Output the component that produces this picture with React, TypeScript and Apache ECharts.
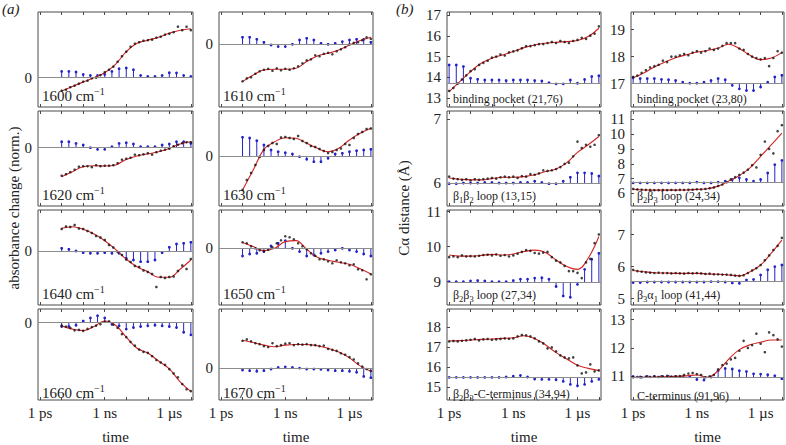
import React, { useEffect, useRef } from 'react';
import * as echarts from 'echarts';

const FONT = 'Liberation Serif';
const RED = '#d42424';
const BLUE = '#2323c8';
const DOT = '#111111';
const BASE = '#8c8c8c';
const FRAME = '#4a4a4a';
const TXT = '#222222';

// time axis: log10(t / 1 ps)
const timeTickLogs = [0, 3, 6];
const timeTickLabels = ['1 ps', '1 ns', '1 µs'];
const decadeTicks = [0, 1, 2, 3, 4, 5, 6, 7];

// ---------- panel (a): absorbance change, data from 10 ps to 10 µs ----------
const fit1600 = [-1.33, -0.87, -0.43, 0.0, 0.5, 1.33, 2.6, 3.45, 3.75, 4.05, 4.45, 4.75, 4.9];
const fit1610 = [-3.73, -3.07, -2.57, -2.5, -2.5, -2.4, -1.73, -1.17, -0.9, -0.57, -0.07, 0.37, 0.7];
const fit1620 = [-2.9, -2.4, -1.9, -1.8, -1.83, -1.73, -1.17, -0.83, -0.63, -0.4, -0.07, 0.37, 0.6];
const fit1630 = [-3.4, -1.4, 0.67, 1.43, 1.83, 1.77, 1.27, 0.77, 0.43, 0.77, 1.6, 2.27, 2.77];
const fit1640 = [2.27, 2.43, 2.17, 1.7, 1.03, 0.17, -0.83, -1.57, -2.07, -2.63, -2.63, -1.83, -0.9];
const fit1650 = [0.57, 0.17, -0.23, 0.0, 0.67, 0.77, -0.1, -0.9, -1.2, -1.4, -1.6, -2.05, -2.57];
const fit1660 = [-0.33, -0.67, -0.83, -0.4, 0.17, -0.27, -1.5, -2.67, -3.17, -4.0, -4.83, -6.17, -7.17];
const fit1670 = [2.9, 2.67, 2.4, 2.23, 2.4, 2.47, 2.47, 2.33, 2.07, 1.67, 1.07, 0.23, -0.33];

const dots1600 = [-1.3, -1.2, -0.95, -0.8, -0.6, -0.4, -0.3, -0.05, 0.0, 0.25, 0.55, 0.8, 1.1, 1.6, 2.15, 2.6, 3.1, 3.4, 3.55, 3.7, 3.75, 3.8, 4.0, 4.1, 4.3, 4.4, 4.55, 5.1, 4.75, 5.1, 4.75];
const dots1610 = [-3.7, -3.4, -3.3, -2.95, -2.7, -2.55, -2.45, -2.65, -2.4, -2.6, -2.45, -2.55, -2.4, -2.2, -1.9, -1.6, -1.5, -1.1, -1.2, -0.95, -0.85, -1.0, -0.7, -0.5, -0.3, 0.0, 0.15, 0.2, 0.4, 0.7, 0.55];
const dots1620 = [-2.8, -2.65, -2.45, -2.2, -1.9, -1.85, -1.85, -1.95, -1.75, -1.85, -1.8, -1.8, -1.75, -1.55, -1.2, -1.1, -1.0, -0.7, -0.75, -0.65, -0.55, -0.7, -0.45, -0.3, -0.2, -0.1, 0.15, 0.3, 0.45, 0.55, 0.55];
const dots1630 = [-3.4, -2.4, -1.7, -0.9, -0.1, 0.6, 1.0, 1.3, 1.2, 1.85, 1.9, 1.8, 1.7, 2.0, 1.5, 1.3, 1.0, 0.9, 0.7, 0.5, 0.3, 0.4, 0.6, 0.75, 1.2, 1.1, 1.8, 2.2, 2.4, 2.7, 2.75];
const dots1640 = [2.2, 2.45, 2.4, 2.6, 2.25, 2.2, 2.0, 1.8, 1.5, 1.35, 1.1, 0.6, 0.35, -0.1, -0.4, -0.85, -1.1, -1.5, -1.6, -1.95, -2.1, -2.3, -3.6, -2.6, -2.7, -2.6, -2.55, -2.0, -1.45, -1.8, -0.8];
const dots1650 = [0.6, 0.5, 0.2, 0.0, -0.2, -0.3, -0.15, 0.1, 0.5, 0.8, 1.2, 1.1, 0.9, 0.5, 0.2, -0.1, -0.5, -0.75, -1.1, -1.1, -1.3, -1.5, -1.2, -1.4, -1.5, -1.7, -1.6, -2.1, -2.2, -3.1, -2.6];
const dots1660 = [-0.3, -0.4, -0.55, -0.8, -0.75, -0.85, -0.65, -0.45, -0.3, -0.15, 0.1, 0.15, -0.2, -0.55, -1.2, -1.5, -2.0, -2.4, -2.8, -3.05, -3.15, -3.5, -3.9, -4.15, -4.4, -4.85, -5.3, -5.7, -6.4, -6.95, -7.15];
const dots1670 = [2.85, 3.0, 2.8, 2.6, 2.5, 2.3, 2.2, 2.6, 2.3, 2.4, 2.55, 2.6, 2.4, 2.5, 2.45, 2.5, 2.4, 2.4, 2.3, 2.35, 2.0, 1.9, 1.8, 1.55, 1.4, 1.15, 0.9, 0.5, 0.15, -0.1, -0.3];

const stems1600 = [0.63, 0.63, 0.57, 0.33, 0.23, 0.23, 0.33, 0.63, 0.9, 0.97, 0.8, 0.23, 0.13, 0.13, 0.23, 0.5, 0.47, 0.23, 0.13];
const stems1610 = [0.7, 0.7, 0.5, 0.2, -0.07, -0.23, -0.23, 0, 0.43, 0.6, 0.43, 0.1, 0, 0.1, 0.27, 0.43, 0.5, 0.5, 0.2];
const stems1620 = [0.6, 0.6, 0.43, 0.27, 0, -0.17, -0.17, 0.1, 0.43, 0.5, 0.37, 0.1, 0.1, 0.1, 0.27, 0.37, 0.6, 0.6, 0.43];
const stems1630 = [1.87, 1.8, 1.53, 1.1, 0.6, 0.43, 0.33, 0.2, -0.07, -0.33, -0.57, -0.57, -0.23, 0.2, 0.27, 0.43, 0.53, 0.6, 0.67];
const stems1640 = [0.27, 0.17, 0, -0.17, -0.23, -0.23, -0.17, -0.23, -0.23, -0.73, -0.9, -1.07, -1.07, -0.9, -0.17, 0.37, 0.7, 0.77, 0.87];
const stems1650 = [-0.77, -0.57, -0.5, -0.33, 0.23, 0.5, 0.77, 0, -0.33, -0.77, -0.67, -0.5, -0.33, -0.17, 0, -0.17, -0.33, -0.57, -0.77];
const stems1660 = [-0.4, -0.4, -0.27, 0.17, 0.5, 0.73, 0.5, -0.17, -0.33, -0.67, -0.5, -0.4, -0.33, -0.27, -0.33, -0.4, -0.5, -1.0, -1.27];
const stems1670 = [-0.2, -0.27, -0.33, -0.27, -0.1, 0.07, 0.13, 0.07, 0, -0.1, -0.1, -0.13, -0.2, -0.27, -0.27, -0.33, -0.43, -0.87, -1.0];

// ---------- panel (b): C-alpha distances (Å), data from 1 ps to 10 µs ----------
const fitB1 = [13.32, 13.8, 14.28, 14.68, 14.92, 15.08, 15.24, 15.43, 15.56, 15.64, 15.69, 15.72, 15.77, 15.96, 16.36];
const fitB2 = [17.22, 17.4, 17.62, 17.8, 17.96, 18.07, 18.17, 18.23, 18.32, 18.46, 18.3, 18.05, 17.89, 17.95, 18.15];
const fitB3 = [6.08, 6.06, 6.05, 6.05, 6.07, 6.09, 6.09, 6.1, 6.13, 6.18, 6.22, 6.32, 6.48, 6.6, 6.73];
const fitB4 = [6.27, 6.24, 6.22, 6.22, 6.22, 6.23, 6.27, 6.31, 6.49, 6.83, 7.2, 7.72, 8.5, 9.28, 10.06];
const fitB5 = [9.76, 9.73, 9.73, 9.75, 9.78, 9.76, 9.79, 9.86, 9.9, 9.83, 9.62, 9.43, 9.35, 9.67, 10.29];
const fitB6 = [5.88, 5.84, 5.81, 5.8, 5.79, 5.79, 5.79, 5.77, 5.76, 5.74, 5.71, 5.84, 6.05, 6.42, 6.83];
const fitB7 = [17.32, 17.34, 17.37, 17.4, 17.42, 17.45, 17.48, 17.58, 17.45, 17.13, 16.74, 16.42, 16.11, 15.95, 15.84];
const fitB8 = [10.97, 10.97, 10.98, 10.99, 11.0, 11.02, 11.05, 10.97, 11.2, 11.61, 11.94, 12.11, 12.2, 12.28, 12.28];

const dotsB1 = [13.35, 13.5, 13.7, 13.9, 14.1, 14.3, 14.4, 14.6, 14.7, 14.8, 14.95, 15.0, 15.1, 15.05, 15.2, 15.25, 15.3, 15.4, 15.5, 15.5, 15.55, 15.6, 15.6, 15.65, 15.7, 15.65, 15.75, 15.7, 15.65, 15.75, 15.8, 15.9, 15.85, 16.0, 16.1, 16.45];
const dotsB2 = [17.25, 17.3, 17.4, 17.5, 17.6, 17.65, 17.7, 17.85, 17.8, 18.0, 18.0, 18.05, 18.1, 18.05, 18.15, 18.2, 18.15, 18.2, 18.3, 18.25, 18.3, 18.4, 18.5, 18.5, 18.5, 18.3, 18.25, 18.1, 18.0, 17.95, 17.9, 17.95, 17.65, 17.95, 18.2, 18.15];
const dotsB3 = [6.1, 6.07, 6.06, 6.05, 6.06, 6.04, 6.06, 6.05, 6.06, 6.07, 6.08, 6.07, 6.09, 6.1, 6.09, 6.1, 6.08, 6.11, 6.1, 6.14, 6.13, 6.15, 6.2, 6.19, 6.2, 6.22, 6.25, 6.3, 6.32, 6.42, 6.65, 6.55, 6.6, 6.57, 6.6, 6.75];
const dotsB4 = [6.3, 6.27, 6.25, 6.24, 6.23, 6.22, 6.22, 6.23, 6.22, 6.23, 6.22, 6.24, 6.23, 6.25, 6.25, 6.28, 6.27, 6.3, 6.35, 6.4, 6.5, 6.6, 6.75, 6.95, 7.1, 7.25, 7.4, 7.6, 7.9, 7.75, 8.6, 9.5, 9.0, 8.7, 10.2, 10.6];
const dotsB5 = [9.7, 9.72, 9.7, 9.75, 9.72, 9.73, 9.72, 9.74, 9.76, 9.77, 9.75, 9.78, 9.74, 9.76, 9.72, 9.75, 9.8, 9.85, 9.9, 9.88, 9.82, 9.8, 9.83, 9.85, 9.7, 9.6, 9.55, 9.45, 9.3, 9.3, 9.25, 9.1, 9.55, 9.65, 10.1, 10.35];
const dotsB6 = [5.9, 5.86, 5.84, 5.82, 5.81, 5.8, 5.81, 5.8, 5.8, 5.79, 5.8, 5.79, 5.78, 5.8, 5.79, 5.8, 5.79, 5.77, 5.78, 5.76, 5.76, 5.75, 5.75, 5.74, 5.72, 5.71, 5.73, 5.8, 5.88, 5.95, 6.05, 6.2, 6.35, 6.52, 6.65, 6.9];
const dotsB7 = [17.3, 17.32, 17.3, 17.33, 17.35, 17.38, 17.42, 17.35, 17.4, 17.42, 17.38, 17.4, 17.42, 17.45, 17.43, 17.45, 17.55, 17.62, 17.6, 17.55, 17.45, 17.3, 17.2, 16.95, 17.0, 16.8, 16.6, 16.5, 16.45, 16.5, 16.1, 15.7, 15.75, 16.15, 15.8, 15.85];
const dotsB8 = [10.97, 10.98, 10.97, 10.99, 10.98, 11.0, 10.98, 11.0, 11.02, 10.99, 11.0, 11.01, 11.05, 11.1, 11.12, 11.08, 11.05, 10.97, 11.0, 11.05, 11.25, 11.4, 11.45, 11.6, 11.65, 11.9, 12.25, 12.0, 12.1, 12.5, 12.15, 11.85, 12.55, 12.45, 12.3, 12.05];

const stemsB1 = [14.6, 14.6, 14.52, 13.96, 13.91, 13.88, 13.88, 13.88, 13.85, 13.88, 13.88, 13.88, 13.85, 13.83, 13.75, 13.69, 13.69, 13.88, 13.72, 13.9, 14.04, 14.08];
const stemsB2 = [17.22, 17.19, 17.19, 17.19, 17.16, 17.15, 17.12, 17.06, 17.02, 17.02, 17.06, 17.12, 17.19, 17.15, 16.94, 16.81, 16.75, 16.75, 16.88, 17.06, 17.25, 17.31];
const stemsB3 = [5.99, 5.99, 6, 6, 6, 6.01, 6.01, 6, 6, 6, 6.01, 6.01, 6.03, 6.01, 5.99, 5.99, 6.03, 6.09, 6.16, 6.16, 6.15, 6.11];
const stemsB4 = [6.71, 6.71, 6.71, 6.71, 6.71, 6.71, 6.71, 6.71, 6.71, 6.76, 6.71, 6.71, 6.76, 6.83, 6.94, 7.05, 6.94, 6.83, 6.94, 7.38, 7.94, 8.23];
const stemsB5 = [9, 9, 9, 9.02, 9.03, 9.02, 9, 9, 9, 9.03, 9.07, 9.07, 9.1, 9.11, 9.07, 8.86, 8.59, 8.55, 8.92, 9.35, 9.64, 9.81];
const stemsB6 = [5.5, 5.5, 5.52, 5.52, 5.52, 5.52, 5.52, 5.52, 5.52, 5.52, 5.52, 5.53, 5.53, 5.52, 5.49, 5.48, 5.58, 5.6, 5.74, 5.9, 6.0, 6.05];
const stemsB7 = [15.5, 15.5, 15.5, 15.5, 15.5, 15.5, 15.5, 15.5, 15.52, 15.56, 15.6, 15.52, 15.42, 15.4, 15.4, 15.38, 15.3, 15.15, 15.08, 15.15, 15.3, 15.4];
const stemsB8 = [11.0, 10.98, 11.0, 11.0, 11.0, 11.0, 11.0, 10.99, 11.0, 10.89, 10.87, 10.98, 11.2, 11.28, 11.26, 11.2, 11.17, 11.09, 11.08, 11.06, 11.02, 10.92];

const baselinesB = [13.72, 17.0, 6.0, 6.74, 8.98, 5.53, 15.5, 10.97];
const yRangeA = [[-2.93, 6.57], [-6.27, 3.23], [-5.83, 3.67], [-5.0, 4.5], [-5.4, 4.1], [-5.67, 3.83], [-8.07, 1.43], [-3.33, 6.17]];
const yRangeB = [[12.58, 17.14], [16.14, 19.65], [5.64, 7.13], [5.15, 11.56], [8.33, 11.05], [4.8, 7.77], [14.37, 18.92], [10.17, 13.37]];
const yTicksB = [[13, 14, 15, 16, 17], [17, 18, 19], [6, 7], [6, 7, 8, 9, 10, 11], [9, 10, 11], [5, 6, 7], [15, 16, 17, 18], [11, 12, 13]];

const wavenumbers = ['1600', '1610', '1620', '1630', '1640', '1650', '1660', '1670'];
const labelsB = [
  '{t|binding pocket (21,76)}',
  '{t|binding pocket (23,80)}',
  '{t|β}{s|1}{t|β}{s|2}{t| loop (13,15)}',
  '{t|β}{s|2}{t|β}{s|3}{t| loop (24,34)}',
  '{t|β}{s|2}{t|β}{s|3}{t| loop (27,34)}',
  '{t|β}{s|3}{t|α}{s|1}{t| loop (41,44)}',
  '{t|β}{s|2}{t|β}{s|3}{t|-C-terminus (34,94)}',
  '{t|C-terminus (91,96)}',
];

// ---------- layout ----------
const COL_LEFT = [38, 219, 447, 631];
const COL_W = [155, 154, 154, 153];
const ROW_TOP = [12, 111, 210, 309];
const ROW_H = 95;

type Panel = {
  col: number; row: number; fit: number[]; dots: number[]; stems: number[];
  base: number; yMin: number; yMax: number; yTicks: number[]; label: string; part: 'a' | 'b';
};

const fitsA = [fit1600, fit1610, fit1620, fit1630, fit1640, fit1650, fit1660, fit1670];
const dotsA = [dots1600, dots1610, dots1620, dots1630, dots1640, dots1650, dots1660, dots1670];
const stemsA = [stems1600, stems1610, stems1620, stems1630, stems1640, stems1650, stems1660, stems1670];
const fitsB = [fitB1, fitB2, fitB3, fitB4, fitB5, fitB6, fitB7, fitB8];
const dotsBAll = [dotsB1, dotsB2, dotsB3, dotsB4, dotsB5, dotsB6, dotsB7, dotsB8];
const stemsBAll = [stemsB1, stemsB2, stemsB3, stemsB4, stemsB5, stemsB6, stemsB7, stemsB8];

const panels: Panel[] = [];
for (let k = 0; k < 8; k++) {
  panels.push({
    col: k % 2, row: Math.floor(k / 2), fit: fitsA[k], dots: dotsA[k], stems: stemsA[k],
    base: 0, yMin: yRangeA[k][0], yMax: yRangeA[k][1], yTicks: [0],
    label: `{t|${wavenumbers[k]} cm}{p|−1}`, part: 'a',
  });
}
for (let k = 0; k < 8; k++) {
  panels.push({
    col: 2 + (k % 2), row: Math.floor(k / 2), fit: fitsB[k], dots: dotsBAll[k], stems: stemsBAll[k],
    base: baselinesB[k], yMin: yRangeB[k][0], yMax: yRangeB[k][1], yTicks: yTicksB[k],
    label: labelsB[k], part: 'b',
  });
}

function buildOption() {
  const grid: any[] = [];
  const xAxis: any[] = [];
  const yAxis: any[] = [];
  const series: any[] = [];
  const graphic: any[] = [];

  panels.forEach((p, i) => {
    const start = p.part === 'a' ? 1 : 0;
    grid.push({
      left: COL_LEFT[p.col], top: ROW_TOP[p.row], width: COL_W[p.col], height: ROW_H,
      show: true, borderColor: FRAME, borderWidth: 1, backgroundColor: 'transparent',
    });
    const bottomRow = p.row === 3;
    xAxis.push({
      gridIndex: i, type: 'value', min: -0.1, max: 7.1, position: 'bottom',
      axisLine: { show: false, onZero: false },
      splitLine: { show: false },
      axisTick: { show: true, inside: true, length: 3, customValues: decadeTicks, lineStyle: { color: FRAME } },
      axisLabel: {
        show: bottomRow, customValues: timeTickLogs, margin: 5,
        fontFamily: FONT, fontSize: 15, color: TXT,
        formatter: (v: number) => timeTickLabels[timeTickLogs.indexOf(Math.round(v))] ?? '',
      },
      name: bottomRow ? 'time' : '', nameLocation: 'middle', nameGap: 29,
      nameTextStyle: { fontFamily: FONT, fontSize: 15, color: TXT },
    });
    xAxis.push({
      gridIndex: i, type: 'value', min: -0.1, max: 7.1, position: 'top',
      axisLine: { show: false, onZero: false },
      splitLine: { show: false },
      axisTick: { show: true, inside: true, length: 3, customValues: decadeTicks, lineStyle: { color: FRAME } },
      axisLabel: { show: false },
    });
    yAxis.push({
      gridIndex: i, type: 'value', min: p.yMin, max: p.yMax,
      axisLine: { show: false, onZero: false },
      splitLine: { show: false },
      axisTick: { show: true, inside: true, length: 3, customValues: p.yTicks, lineStyle: { color: FRAME } },
      axisLabel: { customValues: p.yTicks, margin: 6, fontFamily: FONT, fontSize: 15, color: TXT },
    });

    const fitData = p.fit.map((v, k) => [start + 0.5 * k, v]);
    const dotData = p.dots.map((v, k) => [start + 0.2 * k, v]);
    const stemData = p.stems.map((v, k) => [start + k / 3, v]);
    const base = p.base;

    series.push({
      type: 'custom', xAxisIndex: 2 * i, yAxisIndex: i, z: 2, silent: true,
      data: stemData,
      renderItem: (_params: any, api: any) => {
        const x = api.value(0);
        const v = api.value(1);
        const top = api.coord([x, v]);
        const b = api.coord([x, base]);
        return {
          type: 'group',
          children: [
            { type: 'line', shape: { x1: top[0], y1: b[1], x2: top[0], y2: top[1] }, style: { stroke: BLUE, lineWidth: 1 } },
            { type: 'circle', shape: { cx: top[0], cy: top[1], r: 1.4 }, style: { fill: BLUE } },
          ],
        };
      },
    });
    series.push({
      type: 'line', xAxisIndex: 2 * i, yAxisIndex: i, z: 3, silent: true,
      data: fitData, smooth: 0.4, showSymbol: false, symbol: 'none',
      lineStyle: { color: RED, width: 1.1 },
      markLine: {
        silent: true, symbol: ['none', 'none'], label: { show: false },
        lineStyle: { color: BASE, width: 1, type: 'solid' },
        data: [{ yAxis: base }],
      },
    });
    series.push({
      type: 'scatter', xAxisIndex: 2 * i, yAxisIndex: i, z: 4, silent: true,
      data: dotData, symbolSize: 2.6, itemStyle: { color: DOT },
    });

    const isA = p.part === 'a';
    graphic.push({
      type: 'text',
      x: COL_LEFT[p.col] + (isA ? 4 : 6),
      y: ROW_TOP[p.row] + ROW_H - 2,
      style: {
        text: p.label,
        textVerticalAlign: 'bottom',
        verticalAlign: 'bottom',
        rich: {
          t: { fontFamily: FONT, fontSize: isA ? 15 : 12, fill: TXT, color: TXT },
          p: { fontFamily: FONT, fontSize: 10, fill: TXT, color: TXT, padding: [0, 0, 9, 0] },
          s: { fontFamily: FONT, fontSize: 8.5, fill: TXT, color: TXT, padding: [8, 0, 0, 0] },
        },
      },
    });
  });

  graphic.push(
    { type: 'text', x: 2, y: 1, style: { text: '(a)', fontFamily: FONT, fontStyle: 'italic', fontSize: 15, fill: TXT } },
    { type: 'text', x: 396, y: 1, style: { text: '(b)', fontFamily: FONT, fontStyle: 'italic', fontSize: 15, fill: TXT } },
    {
      type: 'text', x: 14, y: 208, rotation: Math.PI / 2,
      style: { text: 'absorbance change (norm.)', fontFamily: FONT, fontSize: 15, fill: TXT, textAlign: 'center', textVerticalAlign: 'middle', align: 'center', verticalAlign: 'middle' },
    },
    {
      type: 'text', x: 404, y: 208, rotation: Math.PI / 2,
      style: { text: 'Cα distance (Å)', fontFamily: FONT, fontSize: 15, fill: TXT, textAlign: 'center', textVerticalAlign: 'middle', align: 'center', verticalAlign: 'middle' },
    },
  );

  return { animation: false, backgroundColor: '#ffffff', textStyle: { fontFamily: FONT }, grid, xAxis, yAxis, series, graphic };
}

export default function App() {
  const ref = useRef<HTMLDivElement>(null);
  useEffect(() => {
    if (!ref.current) return;
    const chart = echarts.init(ref.current, null, { renderer: 'svg', width: 786, height: 445 });
    chart.setOption(buildOption() as any);
    return () => chart.dispose();
  }, []);
  return (
    <div
      ref={ref}
      style={{ position: 'fixed', left: 0, top: 0, width: 786, height: 445, background: '#fff' }}
    />
  );
}
